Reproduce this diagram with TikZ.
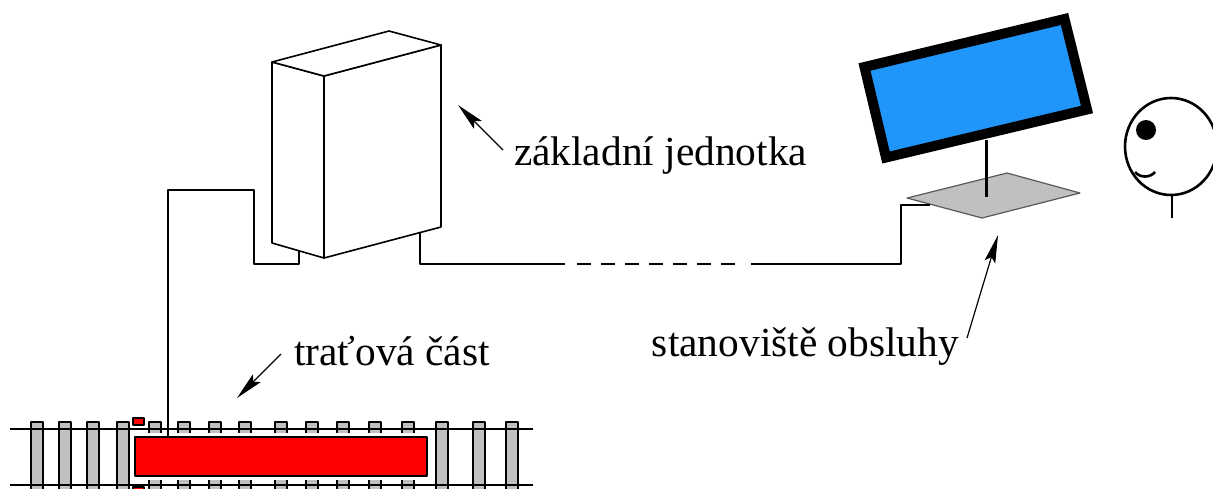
\documentclass[tikz,border=0pt]{standalone}
\usepackage{fontspec}
\setmainfont{Liberation Serif}
\usetikzlibrary{arrows.meta}

\definecolor{silver}{RGB}{192,192,192}
\definecolor{screen}{RGB}{33,150,250}

\begin{document}
\begin{tikzpicture}[x=0.5pt,y=-0.5pt,line width=1pt,line join=round,
    label/.style={font=\fontsize{20.7}{24}\selectfont,inner sep=0pt},
    pointer/.style={-{Stealth[length=14pt,width=5.5pt,inset=2.5pt]},line width=0.6pt},
    sleeper/.style={draw,fill=silver,line width=0.8pt},
    face/.style={draw,fill=white,line width=0.8pt},
    cable/.style={draw,line width=1pt}]
    \useasboundingbox (0,0) rectangle (1213,488);

    % track with sleepers and the train section
    \foreach \x in {31,59,87,117,149,178,209,239,275,306,337,369,402,436,473,506}
        \draw[sleeper] (\x,422) rectangle ++(12,72);
    \draw (10,429) -- (533,429);
    \draw (10,485) -- (533,485);
    \fill[white] (131,433) rectangle (431,480);
    \draw[fill=red] (135,437) rectangle (427,476);
    \draw[fill=red,line width=0.6pt] (133,418) rectangle (144,425);
    \draw[fill=red,line width=0.6pt] (133,487) rectangle (144,494);
    \coordinate (train) at (168,437);

    % base unit
    \draw[face] (272,62) -- (324,76) -- (324,258) -- (272,243) -- cycle;
    \draw[face] (324,76) -- (441,45) -- (441,227) -- (324,258) -- cycle;
    \draw[face] (272,62) -- (389,31) -- (441,45) -- (324,76) -- cycle;
    \coordinate (unitL) at (299,251);
    \coordinate (unitR) at (420,233);

    % operator desk
    \draw[fill=silver,draw=gray!70!black,line width=0.6pt]
        (907,198) -- (1007,173) -- (1080,193) -- (982,218) -- cycle;
    \coordinate (desk) at (930,205);
    \draw[line width=1.5pt] (986,140) -- (986,197);
    \draw[line width=5pt,line join=miter,fill=screen]
        (864.5,67) -- (1064.5,19) -- (1087,109.5) -- (886,157.5) -- cycle;

    % operator
    \begin{scope}[line width=1.3pt]
        \draw (1171,146.5) ellipse [x radius=46,y radius=48.5];
        \fill (1146,130) circle [radius=10];
        \draw (1135,172) .. controls (1140,178) and (1150,178) .. (1155,172);
        \draw (1172,195) -- (1172,218);
    \end{scope}

    % cables
    \path[cable] (unitL) |- (254,264) |- (168,190) -- (train);
    \path[cable] (unitR) |- (565,264);
    \draw[dash pattern=on 7pt off 5pt] (577,264) -- (745,264);
    \path[cable] (751,264) -| (901,205) -- (desk);

    % labels
    \node[label,anchor=base west] (zj) at (513,165) {základní jednotka};
    \node[label,anchor=base east] (so) at (960,356) {stanoviště obsluhy};
    \node[label,anchor=base west] (tc) at (293,365) {traťová část};
    \coordinate (zjTip) at (458,105);
    \coordinate (soTip) at (998,235);
    \coordinate (tcTip) at (237,398);
    \draw[pointer] ([shift={(-10,-15)}]zj.base west) -- (zjTip);
    \draw[pointer] ([shift={(7,-18)}]so.base east) -- (soTip);
    \draw[pointer] ([shift={(-12,-11)}]tc.base west) -- (tcTip);
\end{tikzpicture}
\end{document}
